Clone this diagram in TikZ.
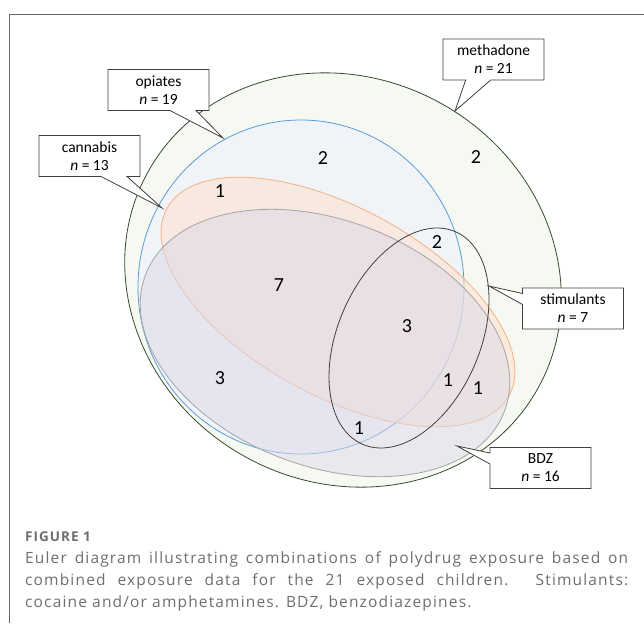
\documentclass[tikz,border=0pt]{standalone}
\usepackage{fontspec}
\setmainfont{Open Sans}
\newfontfamily\calibri{Carlito}
\newfontfamily\capfont[LetterSpace=7.5]{Open Sans}
\usetikzlibrary{shapes.callouts}
\definecolor{methfill}{RGB}{245,249,242}
\definecolor{methline}{RGB}{55,75,45}
\definecolor{opifill}{RGB}{236,238,252}
\definecolor{opiline}{RGB}{91,155,213}
\definecolor{canfill}{RGB}{255,223,202}
\definecolor{canline}{RGB}{244,177,131}
\definecolor{bdzfill}{RGB}{220,217,234}
\definecolor{bdzline}{RGB}{165,165,165}
\definecolor{stimline}{RGB}{64,64,64}
\definecolor{capgray}{RGB}{110,110,110}
\begin{document}
\begin{tikzpicture}[x=1pt, y=-1pt,
  setline/.style={line width=0.8pt},
  labelbox/.style={rectangle callout, draw=black!75, fill=white, line width=0.8pt,
    minimum width=101pt, minimum height=41pt, align=center, inner sep=1pt,
    font=\calibri\fontsize{15.5}{18}\selectfont},
  count/.style={font=\calibri\fontsize{20}{24}\selectfont}]
  \useasboundingbox (0,0) rectangle (644,623);
  % frame
  \draw[black!60, line width=0.9pt] (9,623) -- (9,14) -- (644,14);
  % sets
  \filldraw[setline, fill=methfill, draw=methline, rotate around={-29:(343,280)}]
    (343,280) ellipse [x radius=223, y radius=202];
  \filldraw[setline, fill=opifill, fill opacity=0.5, draw=opiline]
    (301,287) ellipse [x radius=163, y radius=167];
  \filldraw[setline, fill=canfill, fill opacity=0.5, draw=canline, rotate around={-28.7:(338,302)}]
    (338,302) ellipse [x radius=195, y radius=94];
  \filldraw[setline, fill=bdzfill, fill opacity=0.5, draw=bdzline, rotate around={-20.8:(325,343)}]
    (325,343) ellipse [x radius=192, y radius=123];
  \draw[setline, draw=stimline, rotate around={66.3:(409,338)}]
    (409,338) ellipse [x radius=116, y radius=71];
  % counts
  \node[count] (cMeth) at (476,157) {2};
  \node[count] (cOpi) at (323,158) {2};
  \node[count] (cCan) at (220,191) {1};
  \node[count] (cCanBdz) at (279,285) {7};
  \node[count] (cStimOpi) at (437,242) {2};
  \node[count] (cAll) at (407,326) {3};
  \node[count] (cBdz) at (220,378) {3};
  \node[count] (cStimA) at (448,380) {1};
  \node[count] (cStimB) at (478,388) {1};
  \node[count] (cStimC) at (359,428) {1};
  % labels
  \coordinate (methTip) at (455,111);
  \coordinate (opiTip) at (223,138);
  \coordinate (canTip) at (162,208);
  \coordinate (stimTip) at (489,286);
  \coordinate (bdzTip) at (457,446);
  \node[labelbox, callout absolute pointer={(methTip)}, callout pointer width=25pt] (methLab) at (493.5,59.5) {methadone\\{\itshape n} = 21};
  \node[labelbox, callout absolute pointer={(opiTip)}, callout pointer width=26pt] (opiLab) at (158.5,90) {opiates\\{\itshape n} = 19};
  \node[labelbox, callout absolute pointer={(canTip)}, callout pointer width=26pt] (canLab) at (89.5,156) {cannabis\\{\itshape n} = 13};
  \node[labelbox, callout absolute pointer={(stimTip)}, callout pointer width=11pt] (stimLab) at (573,308.5) {stimulants\\{\itshape n} = 7};
  \node[labelbox, callout absolute pointer={(bdzTip)}, callout pointer width=11pt] (bdzLab) at (540.5,468) {BDZ\\{\itshape n} = 16};
  % caption
  \node[anchor=base west, inner sep=0pt, text=capgray, font=\capfont\bfseries\fontsize{13.5}{15}\selectfont] (figNo) at (25,541) {FIGURE 1};
  \node[anchor=north west, inner sep=0pt, text width=603pt, align=justify, text=capgray,
    font=\capfont\fontsize{15.5}{22}\selectfont] (caption) at (25,551.5)
    {Euler diagram illustrating combinations of polydrug exposure based on\linebreak
     combined exposure data for the 21 exposed children. Stimulants:\linebreak
     cocaine and/or amphetamines. BDZ, benzodiazepines.};
\end{tikzpicture}
\end{document}
